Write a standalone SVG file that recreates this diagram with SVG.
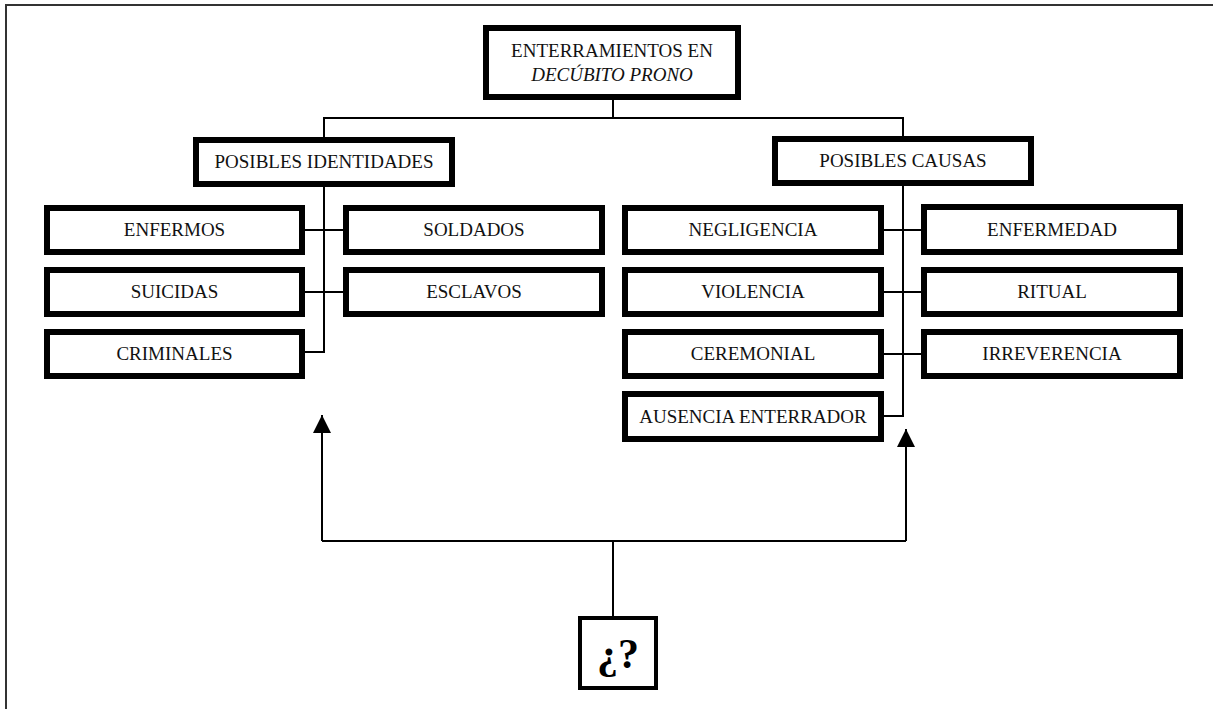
<svg xmlns="http://www.w3.org/2000/svg" width="1213" height="709" viewBox="0 0 1213 709">
<style>
.box{fill:#fff;stroke:#000;stroke-width:6}
.q{fill:#fff;stroke:#000;stroke-width:4}
.t{font-family:"Liberation Serif","Times New Roman",serif;font-size:19px;fill:#111;text-anchor:middle}
.big{font-size:42px;font-weight:bold;fill:#000}
.c{fill:none;stroke:#000;stroke-width:2}
</style>
<defs>
<marker id="ah" markerWidth="18" markerHeight="18" refX="18" refY="9" orient="auto" markerUnits="userSpaceOnUse">
<path d="M0,0 L18,9 L0,18 Z" fill="#000"/>
</marker>
</defs>
<rect width="1213" height="709" fill="#fff"/>
<path d="M6,709 V5 H1213" fill="none" stroke="#333" stroke-width="2"/>
<g id="connectors">
<path class="c" d="M613,100 V118 M324,137 V118 H903 V136"/>
<path class="c" d="M324,187 V352 H305 M305,230 H343 M305,292 H343"/>
<path class="c" d="M903,186 V416 H884 M884,230 H921 M884,292 H921 M884,354 H921"/>
<path class="c" d="M613,616 V541 M322,541 H906"/>
<path class="c" d="M322,541 V415" marker-end="url(#ah)"/>
<path class="c" d="M906,541 V429" marker-end="url(#ah)"/>
</g>
<g id="root"><rect class="box" x="486" y="28" width="252" height="69"/>
<text class="t" x="612" y="57">ENTERRAMIENTOS EN</text>
<text class="t" x="612" y="81" font-style="italic">DECÚBITO PRONO</text></g>
<g id="identidades"><rect class="box" x="196" y="140" width="256" height="44"/><text class="t" x="324" y="168">POSIBLES IDENTIDADES</text></g>
<g id="causas"><rect class="box" x="775" y="139" width="256" height="44"/><text class="t" x="903" y="167">POSIBLES CAUSAS</text></g>
<g id="enfermos"><rect class="box" x="47" y="208" width="255" height="44"/><text class="t" x="174.5" y="236">ENFERMOS</text></g>
<g id="suicidas"><rect class="box" x="47" y="270" width="255" height="44"/><text class="t" x="174.5" y="298">SUICIDAS</text></g>
<g id="criminales"><rect class="box" x="47" y="332" width="255" height="44"/><text class="t" x="174.5" y="360">CRIMINALES</text></g>
<g id="soldados"><rect class="box" x="346" y="208" width="256" height="44"/><text class="t" x="474" y="236">SOLDADOS</text></g>
<g id="esclavos"><rect class="box" x="346" y="270" width="256" height="44"/><text class="t" x="474" y="298">ESCLAVOS</text></g>
<g id="negligencia"><rect class="box" x="625" y="208" width="256" height="44"/><text class="t" x="753" y="236">NEGLIGENCIA</text></g>
<g id="violencia"><rect class="box" x="625" y="270" width="256" height="44"/><text class="t" x="753" y="298">VIOLENCIA</text></g>
<g id="ceremonial"><rect class="box" x="625" y="332" width="256" height="44"/><text class="t" x="753" y="360">CEREMONIAL</text></g>
<g id="ausencia"><rect class="box" x="625" y="394" width="256" height="45"/><text class="t" x="753" y="423">AUSENCIA ENTERRADOR</text></g>
<g id="enfermedad"><rect class="box" x="924" y="207" width="256" height="45"/><text class="t" x="1052" y="236">ENFERMEDAD</text></g>
<g id="ritual"><rect class="box" x="924" y="270" width="256" height="44"/><text class="t" x="1052" y="298">RITUAL</text></g>
<g id="irreverencia"><rect class="box" x="924" y="332" width="256" height="44"/><text class="t" x="1052" y="360">IRREVERENCIA</text></g>
<g id="pregunta"><rect class="q" x="580" y="618" width="76" height="70"/><text class="t big" x="618" y="668">¿?</text></g>
</svg>
